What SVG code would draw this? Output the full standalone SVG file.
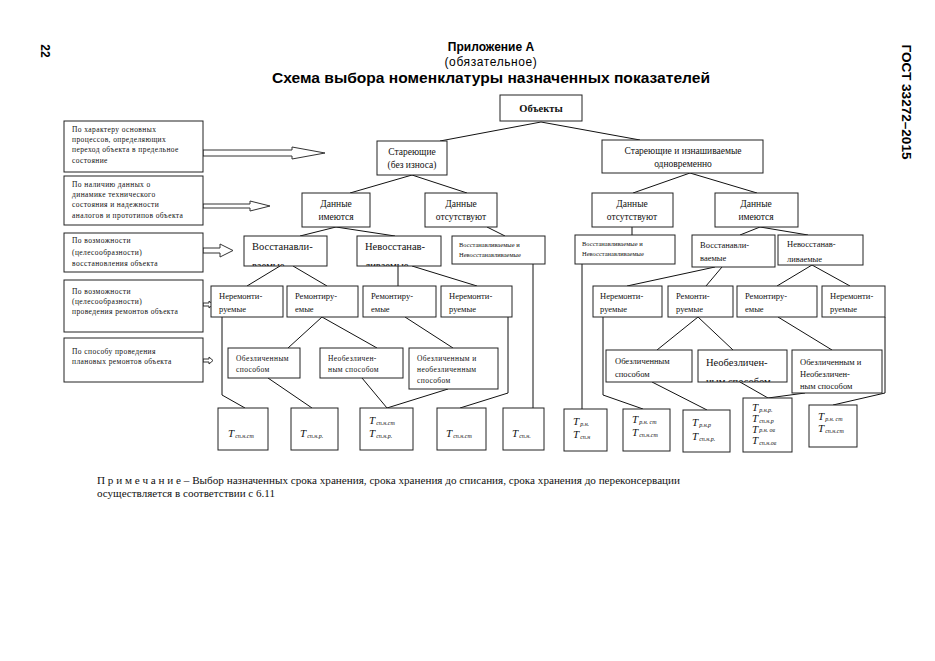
<svg xmlns="http://www.w3.org/2000/svg" width="935" height="661" viewBox="0 0 935 661">
<style>
.bg{fill:#fff}
.box{fill:#fff;stroke:#222;stroke-width:1}
.ln{stroke:#111;stroke-width:1;fill:none}
.arr{fill:#fff;stroke:#333;stroke-width:1}
.t{font-family:"Liberation Serif","Times New Roman",serif;fill:#111}
.h{font-family:"Liberation Sans",Arial,sans-serif;fill:#000}
.s6{font-size:6.5px}
.s7{font-size:7.5px;letter-spacing:0.4px}
.s8{font-size:8.5px}
.s9{font-size:9.5px}
.s10{font-size:10.5px}
.T{font-size:11px;font-style:italic}
.sub{font-size:6px;font-style:italic}
</style>
<defs>
<clipPath id="c1"><rect x="244" y="236" width="83" height="30"/></clipPath>
<clipPath id="c2"><rect x="357" y="236" width="84" height="30"/></clipPath>
<clipPath id="c3"><rect x="778" y="235" width="85" height="30"/></clipPath>
<clipPath id="c4"><rect x="698" y="350" width="89" height="32"/></clipPath>
</defs>
<rect class="bg" x="0" y="0" width="935" height="661"/>

<g id="header">
<text class="h" x="491" y="51" font-size="12" font-weight="bold" text-anchor="middle">Приложение А</text>
<text class="h" x="491" y="66" font-size="12" text-anchor="middle" letter-spacing="0.6">(обязательное)</text>
<text class="h" x="491" y="83" font-size="15" font-weight="bold" text-anchor="middle" textLength="438" lengthAdjust="spacingAndGlyphs">Схема выбора номенклатуры назначенных показателей</text>
<text class="h" x="44" y="51" font-size="12" font-weight="bold" transform="rotate(90 44 51)" text-anchor="middle" dominant-baseline="middle">22</text>
<text class="h" x="905" y="102" font-size="12" font-weight="bold" transform="rotate(90 905 102)" text-anchor="middle" dominant-baseline="middle" textLength="115" lengthAdjust="spacingAndGlyphs">ГОСТ 33272–2015</text>
</g>

<g id="connectors">
<line class="ln" x1="541" y1="122" x2="440" y2="141"/>
<line class="ln" x1="541" y1="122" x2="640" y2="140"/>
<line class="ln" x1="412" y1="175" x2="350" y2="193"/>
<line class="ln" x1="412" y1="175" x2="467" y2="193"/>
<line class="ln" x1="690" y1="173" x2="633" y2="193"/>
<line class="ln" x1="690" y1="173" x2="757" y2="193"/>
<line class="ln" x1="336" y1="227" x2="300" y2="236"/>
<line class="ln" x1="336" y1="227" x2="395" y2="236"/>
<line class="ln" x1="487" y1="227" x2="505" y2="236"/>
<line class="ln" x1="632" y1="227" x2="632" y2="235"/>
<line class="ln" x1="760" y1="227" x2="740" y2="235"/>
<line class="ln" x1="760" y1="227" x2="808" y2="235"/>
<line class="ln" x1="280" y1="266" x2="247" y2="286"/>
<line class="ln" x1="293" y1="266" x2="327" y2="286"/>
<line class="ln" x1="398" y1="266" x2="398" y2="286"/>
<line class="ln" x1="412" y1="266" x2="477" y2="286"/>
<line class="ln" x1="533" y1="264" x2="533" y2="408"/>
<line class="ln" x1="582" y1="264" x2="582" y2="409"/>
<line class="ln" x1="715" y1="267" x2="627" y2="286"/>
<line class="ln" x1="722" y1="267" x2="706" y2="286"/>
<line class="ln" x1="812" y1="265" x2="777" y2="286"/>
<line class="ln" x1="812" y1="265" x2="850" y2="286"/>
<polyline class="ln" points="222,317 222,395 245,408"/>
<line class="ln" x1="322" y1="317" x2="288" y2="348"/>
<line class="ln" x1="322" y1="317" x2="377" y2="348"/>
<line class="ln" x1="405" y1="317" x2="453" y2="348"/>
<polyline class="ln" points="508,317 508,393 460,408"/>
<line class="ln" x1="268" y1="378" x2="312" y2="408"/>
<line class="ln" x1="362" y1="378" x2="387" y2="408"/>
<line class="ln" x1="448" y1="389" x2="387" y2="408"/>
<polyline class="ln" points="603,317 603,395 643,409"/>
<line class="ln" x1="698" y1="317" x2="657" y2="350"/>
<line class="ln" x1="698" y1="317" x2="733" y2="350"/>
<line class="ln" x1="778" y1="317" x2="832" y2="350"/>
<polyline class="ln" points="885,317 885,393 833,405"/>
<line class="ln" x1="652" y1="382" x2="707" y2="410"/>
<line class="ln" x1="740" y1="382" x2="768" y2="398"/>
<line class="ln" x1="805" y1="393" x2="768" y2="398"/>
</g>

<g id="arrows">
<polygon class="arr" points="203,150 292,150 292,147 325,153 292,159 292,156 203,156"/>
<polygon class="arr" points="203,204 250,204 250,201 270,206 250,211 250,208 203,208"/>
<polygon class="arr" points="203,248 220,248 220,244 233,250.5 220,257 220,253 203,253"/>
<polygon class="arr" points="203,303 209,303 209,301 213,304.5 209,308 209,306 203,306"/>
<polygon class="arr" points="203,359 209,359 209,357 213,360.5 209,364 209,362 203,362"/>
</g>

<g id="crit1"><rect class="box" x="64" y="121" width="139" height="51"/>
<text class="t s7" x="72" y="132">По характеру основных</text>
<text class="t s7" x="72" y="142">процессов, определяющих</text>
<text class="t s7" x="72" y="152">переход объекта в предельное</text>
<text class="t s7" x="72" y="163">состояние</text></g>
<g id="crit2"><rect class="box" x="64" y="176" width="139" height="49"/>
<text class="t s7" x="72" y="187">По наличию данных о</text>
<text class="t s7" x="72" y="197">динамике технического</text>
<text class="t s7" x="72" y="207">состояния и надежности</text>
<text class="t s7" x="72" y="218" letter-spacing="0.1">аналогов и прототипов объекта</text></g>
<g id="crit3"><rect class="box" x="64" y="233" width="139" height="39"/>
<text class="t s7" x="72" y="243">По возможности</text>
<text class="t s7" x="72" y="255">(целесообразности)</text>
<text class="t s7" x="72" y="266">восстановления объекта</text></g>
<g id="crit4"><rect class="box" x="64" y="280" width="139" height="52"/>
<text class="t s7" x="72" y="294">По возможности</text>
<text class="t s7" x="72" y="304">(целесообразности)</text>
<text class="t s7" x="72" y="314">проведения ремонтов объекта</text></g>
<g id="crit5"><rect class="box" x="64" y="338" width="139" height="44"/>
<text class="t s7" x="72" y="354">По способу проведения</text>
<text class="t s7" x="72" y="364">плановых ремонтов объекта</text></g>

<g id="objects"><rect class="box" x="500" y="95" width="82" height="26"/>
<text class="t" x="541" y="112" font-size="10.5" font-weight="bold" text-anchor="middle">Объекты</text></g>

<g id="aging"><rect class="box" x="377" y="141" width="70" height="34"/>
<text class="t s9" x="412" y="155" text-anchor="middle">Стареющие</text>
<text class="t s9" x="412" y="168" text-anchor="middle">(без износа)</text></g>
<g id="aging-wear"><rect class="box" x="602" y="140" width="161" height="33"/>
<text class="t s9" x="683" y="154" text-anchor="middle">Стареющие и изнашиваемые</text>
<text class="t s9" x="683" y="167" text-anchor="middle">одновременно</text></g>

<g id="data-yes-l"><rect class="box" x="302" y="193" width="68" height="34"/>
<text class="t s9" x="336" y="207" text-anchor="middle">Данные</text>
<text class="t s9" x="336" y="220" text-anchor="middle">имеются</text></g>
<g id="data-no-l"><rect class="box" x="425" y="193" width="72" height="34"/>
<text class="t s9" x="461" y="207" text-anchor="middle">Данные</text>
<text class="t s9" x="461" y="220" text-anchor="middle">отсутствуют</text></g>
<g id="data-no-r"><rect class="box" x="592" y="193" width="81" height="34"/>
<text class="t s9" x="632" y="207" text-anchor="middle">Данные</text>
<text class="t s9" x="632" y="220" text-anchor="middle">отсутствуют</text></g>
<g id="data-yes-r"><rect class="box" x="715" y="193" width="83" height="34"/>
<text class="t s9" x="756" y="207" text-anchor="middle">Данные</text>
<text class="t s9" x="756" y="220" text-anchor="middle">имеются</text></g>

<g id="rest-l"><rect class="box" x="244" y="236" width="83" height="30"/>
<g clip-path="url(#c1)"><text class="t s10" x="252" y="250">Восстанавли-</text>
<text class="t s10" x="252" y="268.5">ваемые</text></g></g>
<g id="nonrest-l"><rect class="box" x="357" y="236" width="84" height="30"/>
<g clip-path="url(#c2)"><text class="t s10" x="365" y="250">Невосстанав-</text>
<text class="t s10" x="365" y="268.5">ливаемые</text></g></g>
<g id="both-l"><rect class="box" x="452" y="236" width="93" height="28"/>
<text class="t s6" x="459" y="247">Восстанавливаемые и</text>
<text class="t s6" x="459" y="257">Невосстанавливаемые</text></g>
<g id="both-r"><rect class="box" x="575" y="235" width="100" height="29"/>
<text class="t s6" x="582" y="246">Восстанавливаемые и</text>
<text class="t s6" x="582" y="256">Невосстанавливаемые</text></g>
<g id="rest-r"><rect class="box" x="692" y="235" width="83" height="32"/>
<text class="t s8" x="700" y="248">Восстанавли-</text>
<text class="t s8" x="700" y="261">ваемые</text></g>
<g id="nonrest-r"><rect class="box" x="778" y="235" width="85" height="30"/>
<g clip-path="url(#c3)"><text class="t s8" x="787" y="247">Невосстанав-</text>
<text class="t s8" x="787" y="262">ливаемые</text></g></g>

<g id="nrep-l1"><rect class="box" x="211" y="286" width="72" height="31"/>
<text class="t s8" x="219" y="299">Неремонти-</text>
<text class="t s8" x="219" y="312">руемые</text></g>
<g id="rep-l1"><rect class="box" x="287" y="286" width="71" height="31"/>
<text class="t s8" x="295" y="299">Ремонтиру-</text>
<text class="t s8" x="295" y="312">емые</text></g>
<g id="rep-l2"><rect class="box" x="363" y="286" width="73" height="31"/>
<text class="t s8" x="371" y="299">Ремонтиру-</text>
<text class="t s8" x="371" y="312">емые</text></g>
<g id="nrep-l2"><rect class="box" x="441" y="286" width="71" height="31"/>
<text class="t s8" x="449" y="299">Неремонти-</text>
<text class="t s8" x="449" y="312">руемые</text></g>
<g id="nrep-r1"><rect class="box" x="593" y="286" width="69" height="31"/>
<text class="t s8" x="600" y="299">Неремонти-</text>
<text class="t s8" x="600" y="312">руемые</text></g>
<g id="rep-r1"><rect class="box" x="668" y="286" width="65" height="31"/>
<text class="t s8" x="676" y="299">Ремонти-</text>
<text class="t s8" x="676" y="312">руемые</text></g>
<g id="rep-r2"><rect class="box" x="737" y="286" width="80" height="31"/>
<text class="t s8" x="745" y="299">Ремонтиру-</text>
<text class="t s8" x="745" y="312">емые</text></g>
<g id="nrep-r2"><rect class="box" x="822" y="286" width="63" height="31"/>
<text class="t s8" x="830" y="299">Неремонти-</text>
<text class="t s8" x="830" y="312">руемые</text></g>

<g id="imp-l"><rect class="box" x="228" y="348" width="72" height="30"/>
<text class="t s7" x="236" y="361" letter-spacing="0">Обезличенным</text>
<text class="t s7" x="236" y="372" letter-spacing="0">способом</text></g>
<g id="nimp-l"><rect class="box" x="320" y="348" width="83" height="30"/>
<text class="t s7" x="328" y="361" letter-spacing="0">Необезличен-</text>
<text class="t s7" x="328" y="372" letter-spacing="0">ным способом</text></g>
<g id="bimp-l"><rect class="box" x="409" y="348" width="89" height="41"/>
<text class="t s7" x="417" y="361" letter-spacing="0">Обезличенным и</text>
<text class="t s7" x="417" y="372" letter-spacing="0">необезличенным</text>
<text class="t s7" x="417" y="383" letter-spacing="0">способом</text></g>
<g id="imp-r"><rect class="box" x="606" y="350" width="86" height="32"/>
<text class="t s8" x="615" y="364">Обезличенным</text>
<text class="t s8" x="615" y="377">способом</text></g>
<g id="nimp-r"><rect class="box" x="698" y="350" width="89" height="32"/>
<g clip-path="url(#c4)"><text class="t s10" x="706" y="366">Необезличен-</text>
<text class="t s10" x="706" y="384.5">ным способом</text></g></g>
<g id="bimp-r"><rect class="box" x="792" y="350" width="90" height="43"/>
<text class="t s8" x="800" y="365">Обезличенным и</text>
<text class="t s8" x="800" y="377">Необезличен-</text>
<text class="t s8" x="800" y="389">ным способом</text></g>

<g id="tl1"><rect class="box" x="218" y="408" width="50" height="42"/>
<text class="t" x="228" y="437"><tspan class="T">T</tspan><tspan class="sub" dx="1" dy="1">сп.н.ст</tspan></text></g>
<g id="tl2"><rect class="box" x="291" y="408" width="47" height="42"/>
<text class="t" x="300" y="437"><tspan class="T">T</tspan><tspan class="sub" dx="1" dy="1">сп.н.р.</tspan></text></g>
<g id="tl3"><rect class="box" x="360" y="408" width="53" height="42"/>
<text class="t" x="369" y="424"><tspan class="T">T</tspan><tspan class="sub" dx="1" dy="1">сп.н.ст</tspan></text>
<text class="t" x="369" y="437"><tspan class="T">T</tspan><tspan class="sub" dx="1" dy="1">сп.н.р.</tspan></text></g>
<g id="tl4"><rect class="box" x="437" y="408" width="49" height="42"/>
<text class="t" x="446" y="437"><tspan class="T">T</tspan><tspan class="sub" dx="1" dy="1">сп.н.ст</tspan></text></g>
<g id="tl5"><rect class="box" x="503" y="408" width="41" height="42"/>
<text class="t" x="512" y="437"><tspan class="T">T</tspan><tspan class="sub" dx="1" dy="1">сп.н.</tspan></text></g>

<g id="tr1"><rect class="box" x="564" y="409" width="43" height="42"/>
<text class="t" x="573" y="425"><tspan class="T">T</tspan><tspan class="sub" dx="1" dy="1">р.н.</tspan></text>
<text class="t" x="573" y="438"><tspan class="T">T</tspan><tspan class="sub" dx="1" dy="1">сп.н</tspan></text></g>
<g id="tr2"><rect class="box" x="623" y="409" width="47" height="42"/>
<text class="t" x="632" y="423"><tspan class="T">T</tspan><tspan class="sub" dx="1" dy="1">р.н. ст</tspan></text>
<text class="t" x="632" y="436"><tspan class="T">T</tspan><tspan class="sub" dx="1" dy="1">сп.н.ст</tspan></text></g>
<g id="tr3"><rect class="box" x="683" y="410" width="47" height="42"/>
<text class="t" x="692" y="426"><tspan class="T">T</tspan><tspan class="sub" dx="1" dy="1">р.н.р</tspan></text>
<text class="t" x="692" y="440"><tspan class="T">T</tspan><tspan class="sub" dx="1" dy="1">сп.н.р.</tspan></text></g>
<g id="tr4"><rect class="box" x="743" y="398" width="49" height="54"/>
<text class="t" x="752" y="411"><tspan class="T">T</tspan><tspan class="sub" dx="1" dy="1">р.н.р.</tspan></text>
<text class="t" x="752" y="422"><tspan class="T">T</tspan><tspan class="sub" dx="1" dy="1">сп.н.р</tspan></text>
<text class="t" x="752" y="433"><tspan class="T">T</tspan><tspan class="sub" dx="1" dy="-1">р.н. ов</tspan></text>
<text class="t" x="752" y="444"><tspan class="T">T</tspan><tspan class="sub" dx="1" dy="1">сп.н.ов</tspan></text></g>
<g id="tr5"><rect class="box" x="809" y="405" width="48" height="42"/>
<text class="t" x="818" y="420"><tspan class="T">T</tspan><tspan class="sub" dx="1" dy="1">р.н. ст</tspan></text>
<text class="t" x="818" y="432"><tspan class="T">T</tspan><tspan class="sub" dx="1" dy="1">сп.н.ст</tspan></text></g>

<g id="note">
<text class="t" x="97" y="484" font-size="10" textLength="583" lengthAdjust="spacingAndGlyphs">П р и м е ч а н и е – Выбор назначенных срока хранения, срока хранения до списания, срока хранения до переконсервации</text>
<text class="t" x="97" y="497" font-size="10" textLength="178" lengthAdjust="spacingAndGlyphs">осуществляется в соответствии с 6.11</text>
</g>
</svg>
